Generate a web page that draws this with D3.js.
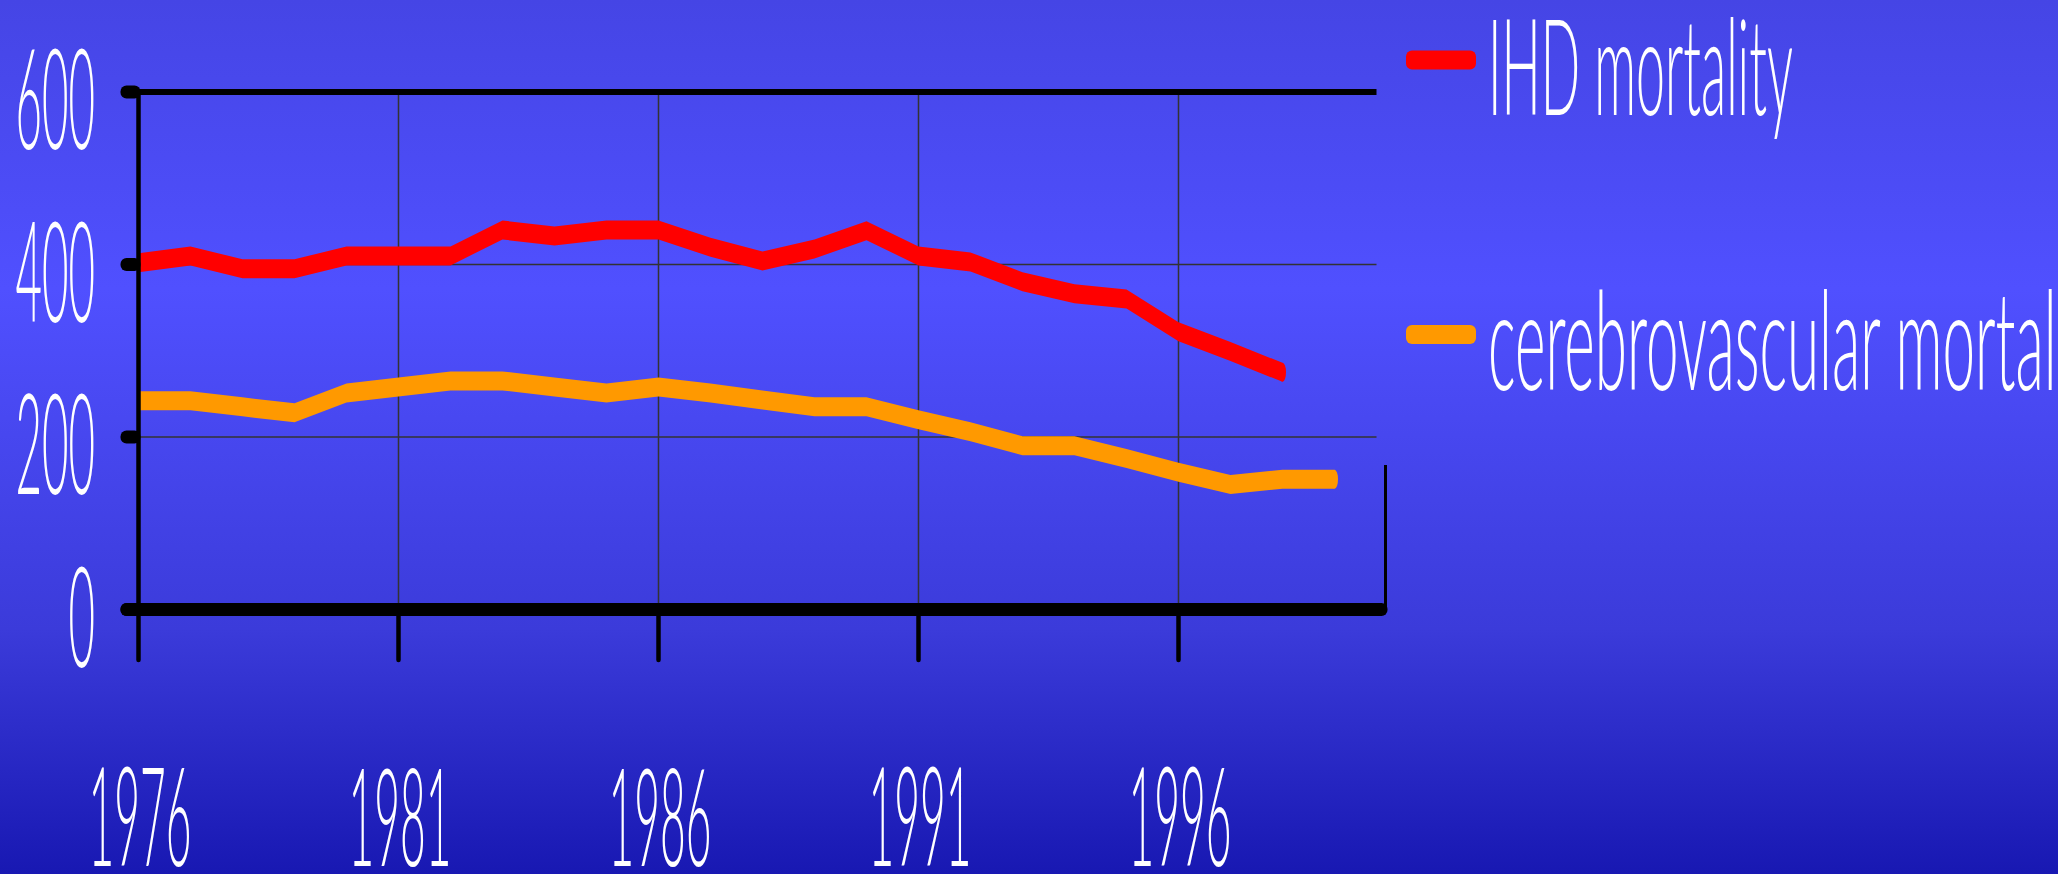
<!DOCTYPE html>
<html lang="en">
  <head>
    <meta charset="UTF-8" />
    <title>IHD and cerebrovascular mortality</title>
    <script src="https://d3js.org/d3.v7.min.js"></script>
    <style>
      html, body { margin: 0; padding: 0; overflow: hidden; }
      text { font-family: Lato, "DejaVu Sans", sans-serif; font-weight: 300; font-size: 100px; fill: #fff; }
    </style>
  </head>
  <body>
    <div id="chart"></div>
    <script>
      // data
      const years = [1976, 1977, 1978, 1979, 1980, 1981, 1982, 1983, 1984, 1985, 1986, 1987,
                     1988, 1989, 1990, 1991, 1992, 1993, 1994, 1995, 1996, 1997, 1998, 1999];
      const ihd = [402, 410, 395, 395, 410, 410, 410, 440, 433, 440, 440, 420,
                   404, 418, 439, 410, 403, 380, 366, 360, 322, 299, 275];
      const cerebro = [242, 242, 235, 228, 251, 258, 265, 265, 258, 251, 258, 251,
                       243, 235, 235, 220, 206, 190, 190, 175, 159, 145, 151, 151];
      const yTicks = [0, 200, 400, 600];
      const xTicks = [1976, 1981, 1986, 1991, 1996];
      const seriesNames = ["IHD mortality", "cerebrovascular mortality"];
      const seriesColors = ["#ff0000", "#ff9900"];

      const width = 2058;
      const height = 874;

      const x = d3.scaleLinear().domain([1976, 2000]).range([138.5, 1386.5]);
      const y = d3.scaleLinear().domain([0, 600]).range([609.5, 92]);
      const plotRight = x(2000) - 10;
      const tickBottom = 660;
      const band = 9.5;

      const svg = d3.select("#chart").append("svg")
        .attr("width", width)
        .attr("height", height);

      const grad = svg.append("defs").append("linearGradient")
        .attr("id", "bg").attr("x1", 0).attr("y1", 0).attr("x2", 0).attr("y2", 1);
      [[0, "#4545e5"], [0.33, "#5050ff"], [0.72, "#3b3bda"], [1, "#1818b2"]].forEach(([o, c]) =>
        grad.append("stop").attr("offset", o).attr("stop-color", c));

      svg.append("rect").attr("width", width).attr("height", height).attr("fill", "url(#bg)");

      // the slide font is a very tall, narrow one: measure the glyphs and stretch
      // each label into the box it takes on the slide
      const ctx = document.createElement("canvas").getContext("2d");
      ctx.font = '300 100px Lato, "DejaVu Sans", sans-serif';
      function fit(sel, box) {
        sel.each(function (d, i) {
          const b = box(d, i);
          const s = String(d);
          const part = ctx.measureText(b.part ? s.slice(0, b.part) : s);
          const sx = b.w / part.width;
          const sy = b.h / part.actualBoundingBoxAscent;
          d3.select(this).attr("x", 0).attr("y", 0)
            .attr("transform", `translate(${b.x},${b.base}) scale(${sx},${sy})`);
        });
      }

      // grid
      const grid = svg.append("g").attr("stroke", "#333").attr("stroke-width", 1.5);
      grid.selectAll(".h").data([200, 400]).join("line")
        .attr("x1", x(1976)).attr("x2", plotRight)
        .attr("y1", d => y(d)).attr("y2", d => y(d));
      grid.selectAll(".v").data(xTicks.slice(1)).join("line")
        .attr("x1", d => x(d)).attr("x2", d => x(d))
        .attr("y1", y(600)).attr("y2", y(0));

      // top frame line
      svg.append("line")
        .attr("x1", x(1976)).attr("x2", plotRight)
        .attr("y1", y(600)).attr("y2", y(600))
        .attr("stroke", "#000").attr("stroke-width", 6);

      // right wall stub
      svg.append("line")
        .attr("x1", x(2000) - 1).attr("x2", x(2000) - 1)
        .attr("y1", 465).attr("y2", y(0))
        .attr("stroke", "#000").attr("stroke-width", 3);

      // series bands
      const area = d3.area()
        .x((d, i) => x(years[i]))
        .y0(d => y(d) - band)
        .y1(d => y(d) + band);

      [ihd, cerebro].forEach((vals, k) => {
        svg.append("path").datum(vals)
          .attr("d", area)
          .attr("fill", seriesColors[k]);
        const last = vals.length - 1;
        svg.append("ellipse")
          .attr("cx", x(years[last])).attr("cy", y(vals[last]))
          .attr("rx", 3.5).attr("ry", band)
          .attr("fill", seriesColors[k]);
      });

      // left axis and x ticks
      svg.append("g").selectAll("line").data(xTicks).join("line")
        .attr("x1", d => x(d)).attr("x2", d => x(d))
        .attr("y1", d => (d === 1976 ? y(600) : y(0)))
        .attr("y2", tickBottom)
        .attr("stroke", "#000")
        .attr("stroke-width", 4.5)
        .attr("stroke-linecap", "round");

      // y tick caps
      svg.append("g").selectAll("rect").data(yTicks).join("rect")
        .attr("x", x(1976) - 18).attr("width", 20)
        .attr("y", d => y(d) - 6.5).attr("height", 13)
        .attr("rx", 6).attr("fill", "#000");

      // zero axis
      svg.append("rect")
        .attr("x", x(1976) - 18).attr("width", x(2000) - x(1976) + 19)
        .attr("y", y(0) - 6.5).attr("height", 13)
        .attr("rx", 6).attr("fill", "#000");

      // y labels
      svg.append("g").selectAll("text").data(yTicks).join("text")
        .text(d => d)
        .call(fit, d => {
          const w = 26.5 * String(d).length;
          return { x: 95 - w, base: y(d) + 57, w: w, h: 102 };
        });

      // x labels
      svg.append("g").selectAll("text").data(xTicks).join("text")
        .text(d => d)
        .call(fit, d => ({ x: x(d) - 50, base: 866, w: 103, h: 100 }));

      // legend
      const legendY = [60, 334.5];
      const legendPart = [13, 22]; // "IHD mortality", "cerebrovascular mortal"
      const legendW = [305, 570];
      const legendH = [100, 102];
      const legend = svg.append("g").selectAll("g").data(seriesNames).join("g")
        .attr("transform", (d, i) => `translate(1406,${legendY[i]})`);
      legend.append("rect")
        .attr("x", 0).attr("width", 70)
        .attr("y", -band).attr("height", band * 2)
        .attr("rx", 6)
        .attr("fill", (d, i) => seriesColors[i]);
      legend.append("text")
        .text(d => d)
        .call(fit, (d, i) => ({ x: 82, base: 55, w: legendW[i], h: legendH[i], part: legendPart[i] }));
    </script>
  </body>
</html>
